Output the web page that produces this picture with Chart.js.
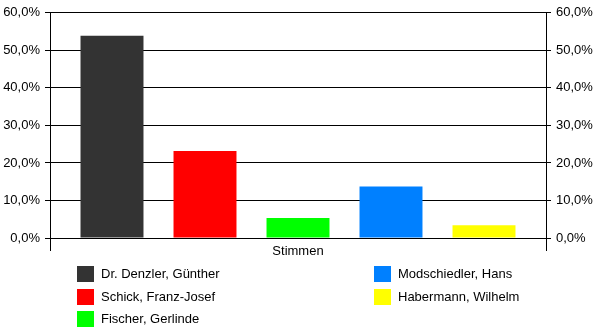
<!DOCTYPE html>
<html>
<head>
<meta charset="utf-8">
<script src="https://cdn.jsdelivr.net/npm/chart.js@4.4.1/dist/chart.umd.min.js"></script>
<style>
    html, body { margin: 0; padding: 0; background: #fff; }
    #wrap { position: relative; width: 600px; height: 333px; }
    #legende { position: absolute; left: 0; top: 0; width: 600px; height: 333px; pointer-events: none;
        font-family: "Liberation Sans", Arial, sans-serif; font-size: 13px; color: #000; }
    .eintrag { position: absolute; height: 16px; line-height: 16px; white-space: nowrap; }
    .eintrag span.box { position: absolute; left: 0; top: 0; width: 17px; height: 16px; }
    .eintrag span.txt { position: absolute; left: 24px; top: 0; }
</style>
</head>
<body>
<div id="wrap">
    <canvas id="stimmenChart" width="600" height="333"></canvas>
    <div id="legende"></div>
</div>
<script>
// Kategorie, Kandidaten und Stimmanteile (%)
const kategorien = ['Stimmen'];
const kandidaten = ['Dr. Denzler, Günther', 'Schick, Franz-Josef', 'Fischer, Gerlinde', 'Modschiedler, Hans', 'Habermann, Wilhelm'];
const anteile = [53.9, 23.2, 5.3, 13.7, 3.4];
const farben = ['#333333', '#ff0000', '#00ff00', '#0080ff', '#ffff00'];
const achsenTicks = [0, 10, 20, 30, 40, 50, 60];

const schrift = { family: '"Liberation Sans", Arial, sans-serif', size: 13 };

function prozent(v) {
    return v.toFixed(1).replace('.', ',') + '%';
}

const datasets = kandidaten.map((name, i) => ({
    label: name,
    data: [anteile[i]],
    backgroundColor: farben[i],
    borderWidth: 0,
    categoryPercentage: 0.9375,
    barPercentage: 0.677
}));

function yAchse(position, width, mitGitter) {
    return {
        type: 'linear',
        position: position,
        min: 0,
        max: 60,
        afterBuildTicks: s => { s.ticks = achsenTicks.map(v => ({ value: v })); },
        afterFit: s => { s.width = width; },
        ticks: {
            font: schrift,
            color: '#000',
            padding: 5,
            callback: v => prozent(v)
        },
        grid: {
            color: '#000',
            lineWidth: 1,
            tickLength: 5,
            drawOnChartArea: mitGitter
        },
        border: { color: '#000', width: 1 }
    };
}

new Chart(document.getElementById('stimmenChart'), {
    type: 'bar',
    data: { labels: kategorien, datasets: datasets },
    options: {
        responsive: false,
        animation: false,
        devicePixelRatio: 1,
        layout: { padding: { top: 10, left: 0, right: 0, bottom: 0 } },
        plugins: { legend: { display: false }, tooltip: { enabled: false } },
        scales: {
            x: {
                afterFit: s => { s.height = 95; },
                ticks: { font: schrift, color: '#000', padding: -7 },
                grid: { color: '#000', lineWidth: 1, tickLength: 13, drawOnChartArea: false },
                border: { display: false }
            },
            y: yAchse('left', 50, true),
            y1: yAchse('right', 54, false)
        }
    }
});

// Legende in zwei Spalten (spaltenweise befüllt)
const legende = document.getElementById('legende');
const spalten = [{ x: 77, n: 3 }, { x: 374, n: 2 }];
let idx = 0;
spalten.forEach(sp => {
    for (let r = 0; r < sp.n; r++, idx++) {
        const el = document.createElement('div');
        el.className = 'eintrag';
        el.style.left = sp.x + 'px';
        el.style.top = (266 + r * 22.5) + 'px';
        el.innerHTML = '<span class="box" style="background:' + farben[idx] + '"></span><span class="txt"></span>';
        el.querySelector('.txt').textContent = kandidaten[idx];
        legende.appendChild(el);
    }
});
</script>
</body>
</html>
